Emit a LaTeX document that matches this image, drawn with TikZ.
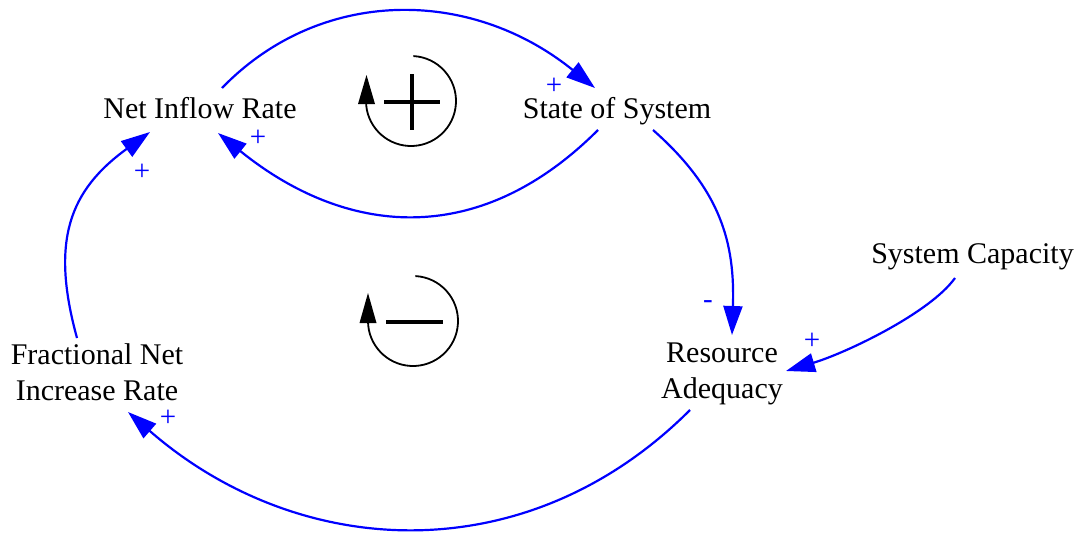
\documentclass[tikz,border=0pt]{standalone}
\usepackage{fontspec}
\setmainfont{Liberation Serif}
\usetikzlibrary{arrows.meta}
\begin{document}
\begin{tikzpicture}[x=1pt,y=-1pt,
  var/.style={font=\fontsize{30}{36}\selectfont, inner sep=0pt, align=center},
  link/.style={draw=blue, line width=2.2pt, -{Triangle[length=29pt,width=19pt]}},
  pol/.style={text=blue, font=\fontsize{29}{30}\selectfont, inner sep=0pt},
  loopline/.style={line width=1.8pt},
  loopsign/.style={line width=4pt}]
\fill[white] (0,0) rectangle (1086,533);
\useasboundingbox (0,0) rectangle (1086,533);

% variables
\node[var, anchor=base] (nir) at (200,118) {Net Inflow Rate};
\node[var, anchor=base] (sos) at (617,118) {State of System};
\node[var, anchor=base] (sc) at (972.5,263) {System Capacity};
\node[var] (ra) at (722,374) {Resource\\Adequacy};
\node[var] (fnir) at (97,372) {Fractional Net\\Increase Rate};

% causal links
\draw[link] ([shift={(22,-30)}]nir.base) .. controls +(98,-101) and +(-125,-101) .. ([shift={(-22,-30)}]sos.base);
\draw[link] ([shift={(-19,12)}]sos.base) .. controls +(-121,121) and +(126,102) .. ([shift={(18,15)}]nir.base);
\draw[link] ([shift={(36,12)}]sos.base) .. controls +(68,60) and +(3,-92) .. ([shift={(10,-39)}]ra.center);
\draw[link] ([shift={(-17.5,15)}]sc.base) .. controls +(-25,35) and +(60,-18) .. ([shift={(64,-3)}]ra.center);
\draw[link] ([shift={(-32,36)}]ra.center) .. controls +(-163,163) and +(171,149) .. ([shift={(31,40)}]fnir.center);
\draw[link] ([shift={(-20,-34)}]fnir.center) .. controls +(-27,-98) and +(-80,58) .. ([shift={(-50,14)}]nir.base);

% link polarities
\node[pol] (p1) at (554,86) {+};
\node[pol] (p2) at (258,138) {+};
\node[pol] (p3) at (812,341) {+};
\node[pol] (m1) at (708,305) {-};
\node[pol] (p4) at (168,418) {+};
\node[pol] (p5) at (142,172) {+};

% reinforcing loop marker
\coordinate (rloop) at (411,101);
\draw[loopline] ([shift={(87:45pt)}]rloop) arc[start angle=87, end angle=-180, radius=45pt];
\fill (366.5,75) -- (358,104) -- (375,104) -- cycle;
\draw[loopsign] (384,102) -- (440,102);
\draw[loopsign] (412,74) -- (412,130);

% balancing loop marker
\coordinate (bloop) at (413,321);
\draw[loopline] ([shift={(87:45pt)}]bloop) arc[start angle=87, end angle=-180, radius=45pt];
\fill (368,293) -- (359.5,323) -- (376.5,323) -- cycle;
\draw[loopsign] (386,322) -- (443,322);
\end{tikzpicture}
\end{document}
